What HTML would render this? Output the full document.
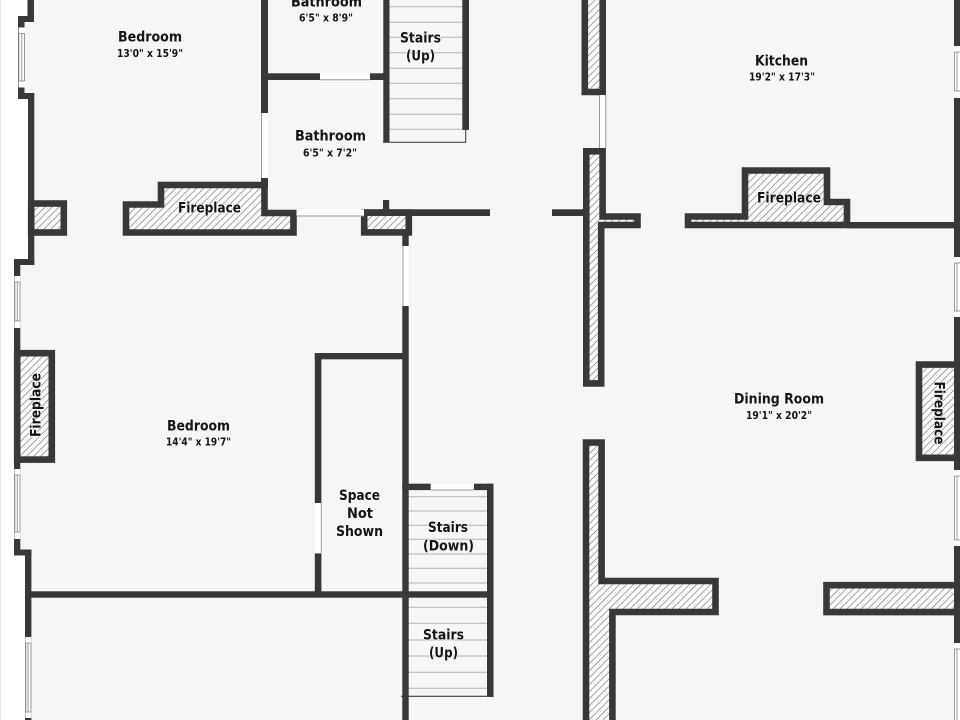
<!DOCTYPE html>
<html><head><meta charset="utf-8"><title>Floor plan</title>
<style>
html,body{margin:0;padding:0;background:#fff}
svg{display:block}
text{font-family:"DejaVu Sans","Liberation Sans",sans-serif;font-weight:700;fill:#141414;text-anchor:middle;paint-order:stroke;stroke:#f6f6f6;stroke-width:1.6px;stroke-linejoin:round}
.n{font-size:14px}.d{font-size:10.5px}
.w{fill:#383838}
.s{fill:url(#h);stroke:#383838;stroke-width:6.6;stroke-linejoin:miter}
.t{stroke:#b4b4b4;stroke-width:1}
.o{fill:#fff;stroke:none}
.g{stroke:#9a9a9a;stroke-width:1;fill:none}
</style></head><body>
<svg width="960" height="720" viewBox="0 0 960 720" xmlns="http://www.w3.org/2000/svg">
<defs><pattern id="h" patternUnits="userSpaceOnUse" width="7" height="7"><rect width="7" height="7" fill="#fafafa"/><path d="M-1 8L8 -1M-1 1L1 -1M6 8L8 6" stroke="#8a8a8a" stroke-width=".75"/></pattern></defs>
<rect width="960" height="720" fill="#fff"/>
<rect width="1" height="720" fill="#e6e6e6"/>
<polygon fill="#f6f6f6" points="27,0 27,16 18,16 18,99 28,99 28,259 14,259 14,555 25,555 25,720 960,720 960,0"/>

<!-- stair treads -->
<g class="t">
<path d="M389 6.7H462M389 22.3H462M389 37.3H462M389 52.7H462M389 68.3H462M389 83.3H462M389 98.7H462M389 114.3H462M389 129.3H465"/>
<path d="M408 496.7H487M408 511H487M408 525.3H487M408 539.3H487M408 554H487M408 568.3H487M408 583H487"/>
<path d="M408 607.3H487M408 623.3H487M408 640H487M408 656H487M408 672.3H487M408 688.3H487"/>
</g>
<path d="M465.7 130V142.2H383" fill="none" stroke="#333" stroke-width="1"/>
<path d="M401 696.3H490" fill="none" stroke="#222" stroke-width="1"/>

<!-- hatched structures -->
<rect class="s" x="31.2" y="203.5" width="32.6" height="29"/>
<polygon class="s" points="126,204.5 161,204.5 161,185 264.5,185 264.5,213 293.5,213 293.5,232.5 126,232.5"/>
<rect class="s" x="364.2" y="212.6" width="44.6" height="19.8"/>
<polygon class="s" points="688,216.5 745,216.5 745,170.5 827,170.5 827,202 847,202 847,225 688,225"/>
<polygon class="s" points="584.8,-10 602.7,-10 602.7,92 584.8,92"/>
<polygon class="s" points="586.3,151.3 602.6,151.3 602.6,216.5 637.5,216.5 637.5,225 601.2,225 601.2,383.4 586.3,383.4"/>
<polygon class="s" points="586,442.5 601.6,442.5 601.6,581 715.5,581 715.5,612 612.4,612 612.4,730 586,730"/>
<polygon class="s" points="826.5,585.2 970,585.2 970,612.1 826.5,612.1"/>
<rect class="s" x="17.2" y="353.2" width="34.6" height="106.4"/>
<polygon class="s" points="919,364.6 970,364.6 970,457.8 919,457.8"/>

<!-- walls -->
<g class="w">
<rect x="27.5" y="0" width="6.5" height="22"/><rect x="18" y="16" width="16" height="6"/><rect x="18" y="16" width="6.5" height="83"/>
<rect x="18" y="93" width="16" height="6"/><rect x="28" y="93" width="6.3" height="172"/>
<rect x="14" y="259" width="20.3" height="6"/><rect x="14" y="259" width="6.3" height="296"/>
<rect x="14" y="549.5" width="17.5" height="6"/><rect x="25" y="549.5" width="6.4" height="170.5"/>
<rect x="25" y="591.3" width="468.5" height="6.4"/>
<rect x="261" y="0" width="7" height="113"/><rect x="261" y="178" width="7" height="10"/>
<rect x="261" y="73.3" width="59" height="6.7"/><rect x="370" y="73.3" width="16" height="6.7"/>
<rect x="383.3" y="0" width="6.2" height="142"/><rect x="462.3" y="0" width="6.7" height="130"/>
<rect x="383" y="200" width="6.2" height="12"/>
<rect x="364" y="209.3" width="126" height="6.7"/>
<rect x="552" y="209.3" width="34" height="6.7"/>
<rect x="402.3" y="234" width="6.4" height="12"/>
<rect x="402.3" y="306" width="6.4" height="414"/>
<rect x="314.8" y="353" width="6.6" height="150"/><rect x="314.8" y="553.3" width="6.6" height="41"/>
<rect x="314.8" y="353" width="92" height="6.3"/>
<rect x="402.3" y="483.7" width="28.5" height="6.4"/><rect x="474" y="483.7" width="19.5" height="6.4"/>
<rect x="487" y="483.7" width="6.5" height="213.3"/>
<rect x="847" y="222" width="113" height="6.4"/>
<rect x="954" y="0" width="6" height="46"/><rect x="954" y="98" width="6" height="159"/><rect x="954" y="317" width="6" height="153"/><rect x="954" y="546" width="6" height="97"/>
</g>

<!-- doors -->
<rect class="o" x="261.5" y="113" width="6.5" height="65"/><path class="g" d="M261.5 113V178"/>
<rect class="o" x="320" y="73.5" width="50" height="6.5"/><path class="g" d="M320 79.8H370"/>
<rect class="o" x="296.5" y="209.5" width="67.5" height="6.5"/><path class="g" d="M296.5 216H364"/>
<rect class="o" x="599.5" y="95" width="6.5" height="53"/><path class="g" d="M605.8 95V148M599.5 95V148"/>
<rect class="o" x="402.5" y="246" width="6" height="60"/><path class="g" d="M403 246V306"/>
<rect class="o" x="430.8" y="484" width="43.2" height="6"/><path class="g" d="M430.8 490H474"/>
<rect class="o" x="315" y="503" width="6.4" height="50.3"/><path class="g" d="M321.3 503V553.3"/>

<!-- windows -->
<g>
<rect class="o" x="18.5" y="27.5" width="6.5" height="60"/><path class="g" d="M18.8 33.5V81M24.5 33.5V81M21.8 33.5V81M18.5 33.5H25M18.5 81H25"/>
<rect class="o" x="14.3" y="276" width="6" height="52"/><path class="g" d="M14.8 282V321M20 282V321M17.3 282V321M14.3 282H20M14.3 321H20"/>
<rect class="o" x="14.3" y="469" width="6" height="70"/><path class="g" d="M14.8 475V532M20 475V532M17.3 475V532M14.3 475H20M14.3 532H20"/>
<rect class="o" x="25.3" y="637" width="6" height="81"/><path class="g" d="M25.8 643V712M31 643V712M28 643V712M25.3 643H31M25.3 712H31"/>
<rect class="o" x="954" y="46" width="6" height="52"/><path class="g" d="M954.5 52V91M957 52V91M954 52H960M954 91H960"/>
<rect class="o" x="954" y="257" width="6" height="60"/><path class="g" d="M954.5 263V311M957 263V311M954 263H960M954 311H960"/>
<rect class="o" x="954" y="470" width="6" height="76"/><path class="g" d="M954.5 476V540M957 476V540M954 476H960M954 540H960"/>
<rect class="o" x="954" y="643" width="6" height="77"/><path class="g" d="M954.5 649V720M957 649V720M954 649H960"/>
</g>

<!-- labels -->
<g transform="translate(0 -.7)">
<text class="n" x="150" y="42" textLength="64" lengthAdjust="spacingAndGlyphs">Bedroom</text>
<text class="d" x="150" y="57.5" textLength="66" lengthAdjust="spacingAndGlyphs">13'0" x 15'9"</text>
<text class="n" x="326.5" y="7" textLength="71" lengthAdjust="spacingAndGlyphs">Bathroom</text>
<text class="d" x="326" y="22" textLength="54" lengthAdjust="spacingAndGlyphs">6'5" x 8'9"</text>
<text class="n" x="330.5" y="141" textLength="71" lengthAdjust="spacingAndGlyphs">Bathroom</text>
<text class="d" x="330" y="157" textLength="54" lengthAdjust="spacingAndGlyphs">6'5" x 7'2"</text>
<text class="n" x="420.5" y="43" textLength="41" lengthAdjust="spacingAndGlyphs">Stairs</text>
<text class="n" x="420.5" y="61" textLength="29" lengthAdjust="spacingAndGlyphs">(Up)</text>
<text class="n" x="781.5" y="66" textLength="53" lengthAdjust="spacingAndGlyphs">Kitchen</text>
<text class="d" x="782" y="81" textLength="66" lengthAdjust="spacingAndGlyphs">19'2" x 17'3"</text>
<text class="n" x="209.5" y="213" textLength="63" lengthAdjust="spacingAndGlyphs">Fireplace</text>
<text class="n" x="789" y="203" textLength="64" lengthAdjust="spacingAndGlyphs">Fireplace</text>
<text class="n" x="198.5" y="431" textLength="63" lengthAdjust="spacingAndGlyphs">Bedroom</text>
<text class="d" x="198.5" y="446" textLength="65" lengthAdjust="spacingAndGlyphs">14'4" x 19'7"</text>
<text class="n" x="779" y="404" textLength="90" lengthAdjust="spacingAndGlyphs">Dining Room</text>
<text class="d" x="779" y="419.5" textLength="66" lengthAdjust="spacingAndGlyphs">19'1" x 20'2"</text>
<text class="n" x="359.5" y="500.5" textLength="41" lengthAdjust="spacingAndGlyphs">Space</text>
<text class="n" x="360" y="518.5" textLength="26" lengthAdjust="spacingAndGlyphs">Not</text>
<text class="n" x="359.5" y="536.5" textLength="47" lengthAdjust="spacingAndGlyphs">Shown</text>
<text class="n" x="448" y="532.5" textLength="40" lengthAdjust="spacingAndGlyphs">Stairs</text>
<text class="n" x="448.5" y="551" textLength="51" lengthAdjust="spacingAndGlyphs">(Down)</text>
<text class="n" x="443.5" y="640" textLength="41" lengthAdjust="spacingAndGlyphs">Stairs</text>
<text class="n" x="443.5" y="658" textLength="29" lengthAdjust="spacingAndGlyphs">(Up)</text>
</g>
<text class="n" transform="translate(40.5 405) rotate(-90)" textLength="64" lengthAdjust="spacingAndGlyphs">Fireplace</text>
<text class="n" transform="translate(934.5 413) rotate(90)" textLength="63" lengthAdjust="spacingAndGlyphs">Fireplace</text>
</svg>
</body></html>
